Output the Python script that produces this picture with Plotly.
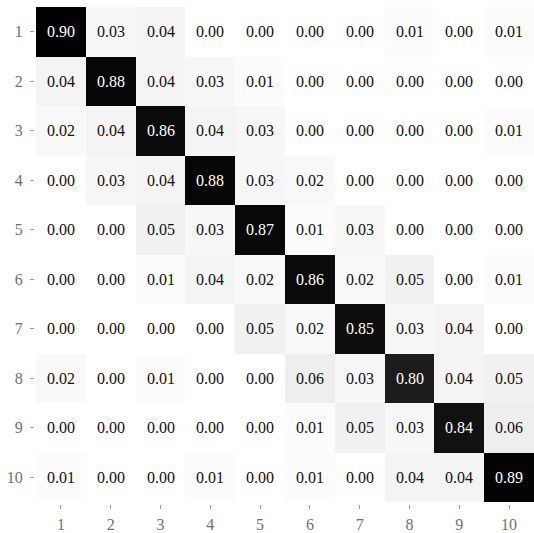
import plotly.graph_objects as go

# Class labels (rows = true class, columns = predicted class)
classes = ["1", "2", "3", "4", "5", "6", "7", "8", "9", "10"]

# Row-normalised confusion matrix values
row_1 = [0.90, 0.03, 0.04, 0.00, 0.00, 0.00, 0.00, 0.01, 0.00, 0.01]
row_2 = [0.04, 0.88, 0.04, 0.03, 0.01, 0.00, 0.00, 0.00, 0.00, 0.00]
row_3 = [0.02, 0.04, 0.86, 0.04, 0.03, 0.00, 0.00, 0.00, 0.00, 0.01]
row_4 = [0.00, 0.03, 0.04, 0.88, 0.03, 0.02, 0.00, 0.00, 0.00, 0.00]
row_5 = [0.00, 0.00, 0.05, 0.03, 0.87, 0.01, 0.03, 0.00, 0.00, 0.00]
row_6 = [0.00, 0.00, 0.01, 0.04, 0.02, 0.86, 0.02, 0.05, 0.00, 0.01]
row_7 = [0.00, 0.00, 0.00, 0.00, 0.05, 0.02, 0.85, 0.03, 0.04, 0.00]
row_8 = [0.02, 0.00, 0.01, 0.00, 0.00, 0.06, 0.03, 0.80, 0.04, 0.05]
row_9 = [0.00, 0.00, 0.00, 0.00, 0.00, 0.01, 0.05, 0.03, 0.84, 0.06]
row_10 = [0.01, 0.00, 0.00, 0.01, 0.00, 0.01, 0.00, 0.04, 0.04, 0.89]

matrix = [row_1, row_2, row_3, row_4, row_5, row_6, row_7, row_8, row_9, row_10]
zmax = max(max(r) for r in matrix)

FONT = "Liberation Serif"
TICK_COLOR = "#707070"

fig = go.Figure(
    go.Heatmap(
        z=matrix,
        x=classes,
        y=classes,
        colorscale=[[0.0, "#ffffff"], [1.0, "#000000"]],
        zmin=0.0,
        zmax=zmax,
        showscale=False,
        xgap=0,
        ygap=0,
        hoverinfo="skip",
    )
)

# Cell value labels: white on dark cells, black on light ones.
# Positions are category indices on both axes.
for i in range(len(classes)):
    for j in range(len(classes)):
        v = matrix[i][j]
        fig.add_annotation(
            x=j,
            y=i,
            xref="x",
            yref="y",
            text=f"{v:.2f}",
            showarrow=False,
            font=dict(family=FONT, size=16,
                      color="#ffffff" if v > zmax / 2 else "#111111"),
        )

fig.update_layout(
    width=534,
    height=533,
    margin=dict(l=34, r=0, t=7, b=24),
    paper_bgcolor="white",
    plot_bgcolor="white",
    font=dict(family=FONT, size=16, color=TICK_COLOR),
    xaxis=dict(
        domain=[0.004, 1.0],
        anchor="free",
        position=0.0,
        type="category",
        showgrid=False,
        zeroline=False,
        showline=False,
        ticks="outside",
        ticklen=4,
        tickwidth=1,
        tickcolor="#9a9a9a",
        ticklabelstandoff=2,
        tickfont=dict(family=FONT, size=16, color=TICK_COLOR),
    ),
    yaxis=dict(
        domain=[0.004, 1.0],
        anchor="free",
        position=0.0,
        type="category",
        autorange="reversed",
        showgrid=False,
        zeroline=False,
        showline=False,
        ticks="outside",
        ticklen=4,
        tickwidth=1,
        tickcolor="#9a9a9a",
        ticklabelstandoff=4,
        tickfont=dict(family=FONT, size=16, color=TICK_COLOR),
    ),
)

fig.write_html("out.html")
